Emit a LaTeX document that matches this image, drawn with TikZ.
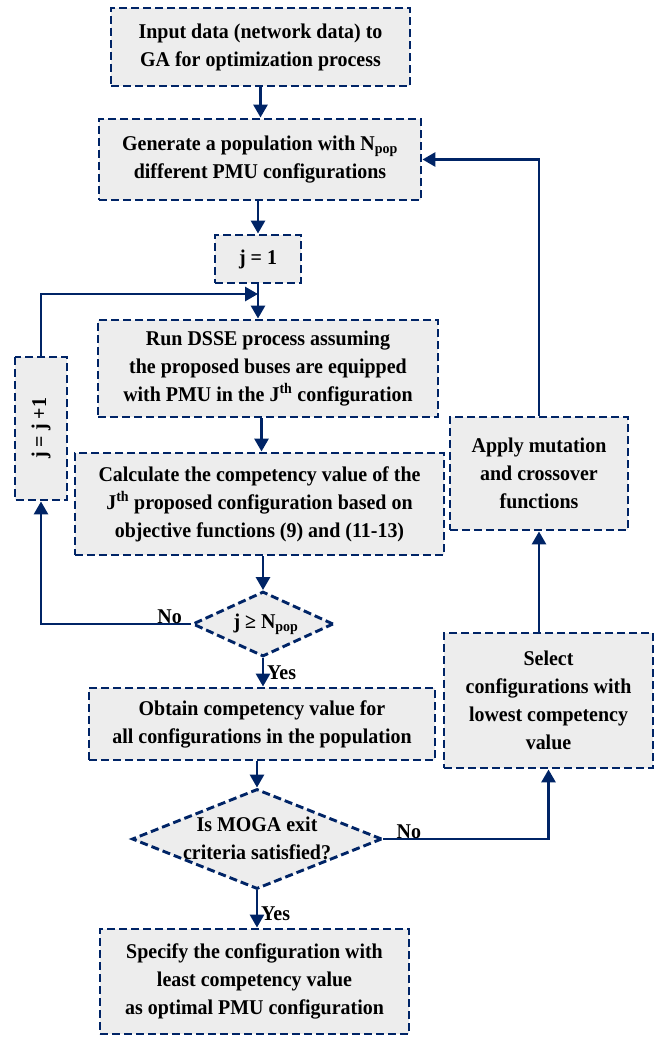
\documentclass[tikz,border=0pt]{standalone}
\usepackage{fontspec}
\setmainfont{Liberation Serif}[FakeStretch=0.95]
\usetikzlibrary{arrows.meta,shapes.geometric}
\definecolor{navy}{RGB}{0,36,102}
\definecolor{boxfill}{RGB}{237,237,237}
\begin{document}
\begin{tikzpicture}[x=1pt,y=-1pt,
  box/.style={draw=navy,fill=boxfill,line width=2.9pt,dash pattern=on 8pt off 4pt,
    align=center,inner sep=2pt,font=\fontsize{21}{28}\selectfont\bfseries},
  dec/.style={box,diamond,inner sep=0pt},
  txt/.style={align=center,inner sep=0pt,font=\fontsize{21}{28}\selectfont\bfseries},
  arr/.style={draw=navy,line width=2.9pt,-{Triangle[length=13pt,width=14pt]}},
  lab/.style={font=\fontsize{21}{24}\selectfont\bfseries,inner sep=1pt}]
\useasboundingbox (0,0) rectangle (656,1038);
\node[box,minimum width=299pt,minimum height=78pt] (b1) at (260.5,47)
  {Input data (network data) to\\GA for optimization process};
\node[box,minimum width=322pt,minimum height=81pt] (b2) at (260,159.5)
  {Generate a population with N\textsubscript{pop}\\different PMU configurations};
\node[box,minimum width=86pt,minimum height=48pt] (j1) at (258,259) {j = 1};
\node[box,minimum width=340pt,minimum height=97pt] (dsse) at (268,368.5)
  {Run DSSE process assuming\\the proposed buses are equipped\\with PMU in the J\textsuperscript{th} configuration};
\node[box,minimum width=369pt,minimum height=102pt] (calc) at (259.5,504)
  {Calculate the competency value of the\\J\textsuperscript{th} proposed configuration based on\\objective functions (9) and (11-13)};
\node[box,minimum width=143pt,minimum height=52pt,rotate=90] (jj) at (41,428.5) {j = j +1};
\node[box,minimum width=178pt,minimum height=113pt] (apply) at (539,473.5)
  {Apply mutation\\and crossover\\functions};
\node[dec,minimum width=141pt,minimum height=65pt] (d1) at (263,624) {};
\node[txt] (d1t) at (266,624) {j ≥ N\textsubscript{pop}};
\node[box,minimum width=346pt,minimum height=72pt] (obt) at (262,724)
  {Obtain competency value for\\all configurations in the population};
\node[box,minimum width=209pt,minimum height=135pt] (sel) at (548.5,700.5)
  {Select\\configurations with\\lowest competency\\value};
\node[dec,minimum width=250pt,minimum height=100pt] (d2) at (257,839) {};
\node[txt] (d2t) at (257,838) {Is MOGA exit\\criteria satisfied?};
\node[box,minimum width=309pt,minimum height=105pt] (fin) at (254.5,981.5)
  {Specify the configuration with\\least competency value\\as optimal PMU configuration};
\coordinate (m) at (j1.south |- 0,294);
\draw[arr] (b1.south) -- (b1.south |- b2.north);
\draw[arr] (j1.south |- b2.south) -- (j1.north);
\draw[arr] (j1.south) -- (j1.south |- dsse.north);
\draw[arr] (jj.east) |- (m);
\draw[arr] ([xshift=2pt]calc.north |- dsse.south) -- ([xshift=2pt]calc.north);
\draw[arr] (d1.north |- calc.south) -- (d1.north);
\draw[arr] (d1.west) -| (jj.west);
\node[lab,anchor=south east] (no1) at ([xshift=-8pt,yshift=-1pt]d1.west) {No};
\draw[arr] (d1.south) -- (d1.south |- obt.north);
\node[lab,anchor=west] (yes1) at ([xshift=3pt,yshift=-15pt]d1.south) {Yes};
\draw[arr] (d2.north |- obt.south) -- (d2.north);
\draw[arr] (d2.south) -- (d2.south |- fin.north);
\node[lab,anchor=west] (yes2) at ([xshift=3pt,yshift=-23pt]d2.south) {Yes};
\draw[arr] (d2.east) -| (sel.south);
\node[lab,anchor=south west] (no2) at ([xshift=12pt,yshift=-1pt]d2.east) {No};
\draw[arr] (sel.north -| apply.south) -- (apply.south);
\draw[arr] (apply.north) |- (b2.east);
\end{tikzpicture}
\end{document}
